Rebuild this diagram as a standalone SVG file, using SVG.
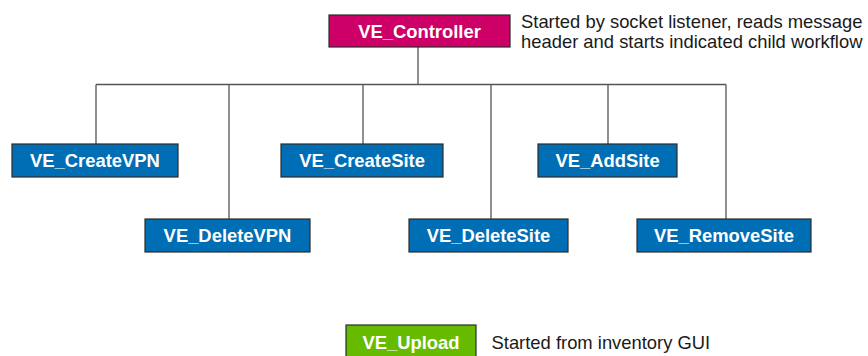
<svg xmlns="http://www.w3.org/2000/svg" width="868" height="356" viewBox="0 0 868 356">
<style>
.box{stroke:#2b2b2b;stroke-width:1.2}
.blue{fill:#006eb4}
.lbl{font-family:"Liberation Sans",Arial,sans-serif;font-weight:bold;font-size:18.4px;fill:#fff;text-anchor:middle}
.note{font-family:"Liberation Sans",Arial,sans-serif;font-size:18.4px;fill:#1a1a1a}
.conn{stroke:#555;stroke-width:1.3;fill:none}
</style>
<rect width="868" height="356" fill="#fff"/>
<g id="connectors">
<path class="conn" d="M418 47V84.5M96 84.5H726M96 84.5V144M229 84.5V219M363 84.5V144M491 84.5V219M608 84.5V144M726 84.5V219"/>
</g>
<g id="VE_Controller">
<rect class="box" x="329" y="15" width="181" height="32" fill="#cc0066"/>
<text class="lbl" x="419.5" y="37.5">VE_Controller</text>
</g>
<g id="note_controller">
<text class="note" x="521" y="27.5">Started by socket listener, reads message</text>
<text class="note" x="521" y="47.5">header and starts indicated child workflow</text>
</g>
<g id="VE_CreateVPN">
<rect class="box blue" x="12" y="144" width="166" height="33"/>
<text class="lbl" x="95" y="167">VE_CreateVPN</text>
</g>
<g id="VE_DeleteVPN">
<rect class="box blue" x="145" y="219" width="165" height="33"/>
<text class="lbl" x="227.5" y="242">VE_DeleteVPN</text>
</g>
<g id="VE_CreateSite">
<rect class="box blue" x="281" y="144" width="162" height="33"/>
<text class="lbl" x="362" y="167">VE_CreateSite</text>
</g>
<g id="VE_DeleteSite">
<rect class="box blue" x="409" y="219" width="159" height="33"/>
<text class="lbl" x="488.5" y="242">VE_DeleteSite</text>
</g>
<g id="VE_AddSite">
<rect class="box blue" x="538" y="144" width="139" height="33"/>
<text class="lbl" x="607.5" y="167">VE_AddSite</text>
</g>
<g id="VE_RemoveSite">
<rect class="box blue" x="637" y="219" width="174" height="33"/>
<text class="lbl" x="724" y="242">VE_RemoveSite</text>
</g>
<g id="VE_Upload">
<rect class="box" x="346" y="325" width="130" height="33" fill="#66bb00"/>
<text class="lbl" x="411" y="348.5">VE_Upload</text>
</g>
<g id="note_upload">
<text class="note" x="491.5" y="349">Started from inventory GUI</text>
</g>
</svg>
